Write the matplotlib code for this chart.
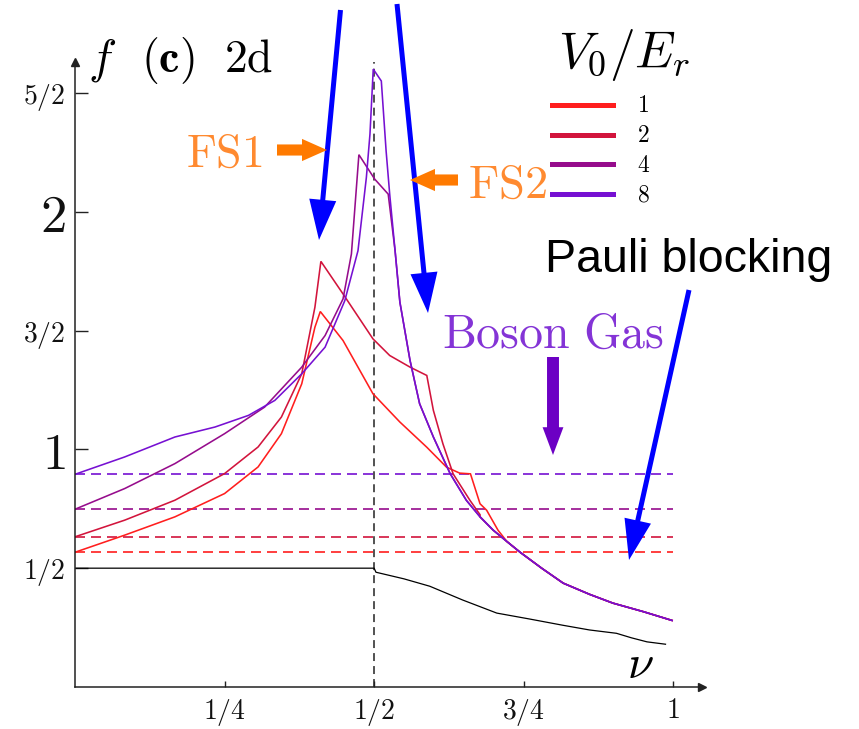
import matplotlib
matplotlib.use("Agg")
import matplotlib.pyplot as plt
from matplotlib.lines import Line2D
from matplotlib.patches import FancyArrowPatch

plt.rcParams["mathtext.fontset"] = "cm"
plt.rcParams["font.family"] = ["DejaVu Serif"]

# ---------------------------------------------------------------- data
v0_labels = ["1", "2", "4", "8"]
curve_colors = ["#ff1e1e", "#d2143c", "#960c8c", "#7610d2"]
boson_gas = [0.567, 0.632, 0.748, 0.895]      # boson-gas level for each V0/Er

# shared high-filling branch (all depths coincide here)
nu_tail = [0.744, 0.780, 0.816, 0.860, 0.899, 0.950, 0.998]
f_tail = [0.567, 0.500, 0.437, 0.390, 0.353, 0.317, 0.280]

# branch shared by the two deepest lattices just above half filling
nu_mid = [0.535, 0.543, 0.560, 0.576, 0.599, 0.627, 0.654, 0.677, 0.699, 0.722]
f_mid = [1.836, 1.620, 1.374, 1.192, 1.052, 0.898, 0.786, 0.716, 0.660, 0.612]

nu_v1 = [0.000, 0.083, 0.167, 0.250, 0.306, 0.345, 0.379, 0.401, 0.410,
         0.448, 0.498, 0.543, 0.588, 0.621, 0.643, 0.661, 0.677, 0.688, 0.707,
         0.722] + nu_tail
f_v1 = [0.567, 0.639, 0.716, 0.814, 0.926, 1.066, 1.276, 1.514, 1.580,
        1.458, 1.234, 1.115, 1.009, 0.925, 0.900, 0.897, 0.771, 0.744, 0.660,
        0.612] + f_tail

nu_v2 = [0.000, 0.083, 0.167, 0.250, 0.306, 0.345, 0.379, 0.401, 0.411,
         0.448, 0.498, 0.526, 0.560, 0.588, 0.599, 0.615, 0.632, 0.660,
         0.677] + nu_mid[-3:] + nu_tail
f_v2 = [0.632, 0.702, 0.786, 0.898, 1.010, 1.136, 1.318, 1.598, 1.791,
        1.654, 1.465, 1.395, 1.346, 1.311, 1.164, 1.023, 0.897, 0.786,
        0.725] + f_mid[-3:] + f_tail

nu_v4 = [0.000, 0.083, 0.167, 0.250, 0.317, 0.379, 0.418, 0.448, 0.462,
         0.4745, 0.501, 0.5235] + nu_mid + nu_tail
f_v4 = [0.748, 0.835, 0.940, 1.066, 1.178, 1.346, 1.479, 1.633, 1.822,
        2.240, 2.137, 2.074] + f_mid + f_tail

nu_v8 = [0.000, 0.083, 0.167, 0.234, 0.290, 0.334, 0.379, 0.418, 0.451,
         0.473, 0.487, 0.493, 0.4985, 0.512, 0.520, 0.526] + nu_mid + nu_tail
f_v8 = [0.895, 0.968, 1.052, 1.094, 1.143, 1.206, 1.318, 1.430, 1.626,
        1.836, 2.144, 2.326, 2.600, 2.550, 2.256, 2.074] + f_mid + f_tail

curves_nu = [nu_v1, nu_v2, nu_v4, nu_v8]
curves_f = [f_v1, f_v2, f_v4, f_v8]

# black reference curve
nu_black = [0.000, 0.500, 0.503, 0.550, 0.593, 0.648, 0.705, 0.760, 0.815,
            0.860, 0.905, 0.930, 0.956, 0.987]
f_black = [0.500, 0.500, 0.483, 0.455, 0.424, 0.366, 0.311, 0.286, 0.260,
           0.240, 0.226, 0.207, 0.190, 0.180]

x_ticks = [0.25, 0.5, 0.75, 1.0]
x_ticklabels = [r"$1/4$", r"$1/2$", r"$3/4$", r"$1$"]
y_ticks = [0.5, 1.0, 1.5, 2.0, 2.5]
y_ticklabels = [r"$1/2$", r"$1$", r"$3/2$", r"$2$", r"$5/2$"]
y_ticksizes = [20, 37, 20, 38, 20]

# ---------------------------------------------------------------- layout
W, H = 859, 729
fig = plt.figure(figsize=(W / 100, H / 100), dpi=100)


def fp(px, py):
    """pixel position -> figure fraction"""
    return (px / W, 1 - py / H)


ax_l, ax_r, ax_t, ax_b = 75, 702, 62, 687
ax = fig.add_axes([ax_l / W, 1 - ax_b / H, (ax_r - ax_l) / W, (ax_b - ax_t) / H])
ax.set_xlim(0, 1.048)
ax.set_ylim(0, 2.63)

for s in ("top", "right"):
    ax.spines[s].set_visible(False)
for s in ("left", "bottom"):
    ax.spines[s].set_linewidth(1.1)
    ax.spines[s].set_color("#222222")

# axis arrowheads
ax.plot(1, 0, ">", color="#222222", ms=6, transform=ax.transAxes, clip_on=False)
ax.plot(0, 1, "^", color="#222222", ms=6, transform=ax.transAxes, clip_on=False)

ax.set_xticks(x_ticks)
ax.set_xticklabels(x_ticklabels, fontsize=20)
ax.set_yticks(y_ticks)
ax.set_yticklabels(y_ticklabels)
for lab, sz in zip(ax.get_yticklabels(), y_ticksizes):
    lab.set_fontsize(sz)
ax.tick_params(axis="x", direction="in", length=4.5, width=1.0, pad=7, colors="#222222")
ax.tick_params(axis="y", direction="in", length=9.5, width=1.0, pad=7, colors="#222222")
for lab in ax.get_xticklabels() + ax.get_yticklabels():
    lab.set_color("#111111")

# boson-gas levels
for lvl, col in zip(boson_gas, curve_colors):
    ax.hlines(lvl, 0, 1.0, colors=col, linewidth=1.2, linestyles=(0, (6, 3.6)))

# half filling
ax.axvline(0.5, color="#222222", linewidth=1.1, dashes=(5.2, 3.3))

# black curve
ax.plot(nu_black, f_black, color="black", linewidth=0.9)

# curves for each lattice depth
for nu, f, col in zip(curves_nu, curves_f, curve_colors):
    ax.plot(nu, f, color=col, linewidth=1.15, solid_joinstyle="miter")

# ---------------------------------------------------------------- labels
fig.text(*fp(88, 72), r"$f$", fontsize=34, ha="left", va="baseline")
fig.text(*fp(141, 72), r"$(\mathbf{c})$", fontsize=33, ha="left", va="baseline")
fig.text(*fp(224, 72), r"$2\mathrm{d}$", fontsize=33, ha="left", va="baseline")
fig.text(*fp(627, 678), r"$\nu$", fontsize=34, ha="left", va="baseline")

# legend
fig.text(*fp(558, 68), r"$V_0/E_r$", fontsize=37, ha="left", va="baseline")
legend_rows = [105, 135, 164, 194]
for py, col, lab in zip(legend_rows, curve_colors, v0_labels):
    fig.add_artist(Line2D([552 / W, 613 / W], [1 - py / H, 1 - py / H],
                          color=col, linewidth=3.6, transform=fig.transFigure))
    fig.text(*fp(637, py + 1), "$" + lab + "$", fontsize=17, ha="left", va="center")

orange = "#ff7a00"
fig.text(*fp(186, 167), r"$\mathrm{FS1}$", fontsize=33, color="#ff8a30",
         ha="left", va="baseline")
fig.text(*fp(468, 198), r"$\mathrm{FS2}$", fontsize=33.5, color="#ff8a30",
         ha="left", va="baseline")
fig.text(*fp(442, 348), r"$\mathrm{Boson\ Gas}$", fontsize=34.5, color="#8434d6",
         ha="left", va="baseline")
fig.text(*fp(545, 272), "Pauli blocking", fontsize=33.5, color="black",
         family="Liberation Sans", ha="left", va="baseline")


def arrow(p0, p1, color, tail, head_w, head_l):
    fig.add_artist(FancyArrowPatch(
        fp(*p0), fp(*p1), transform=fig.transFigure,
        arrowstyle=f"simple,head_length={head_l},head_width={head_w},tail_width={tail}",
        mutation_scale=1, color=color, linewidth=0, shrinkA=0, shrinkB=0))


blue = "#0000ff"
arrow((340.5, 10), (319, 240), blue, 3.6, 19.5, 29)
arrow((397, 4), (428, 313), blue, 3.6, 19.5, 29)
arrow((689, 290), (629, 560), blue, 3.6, 19.5, 29)

arrow((277, 150), (327, 150), orange, 8.0, 16, 18)
arrow((458, 180), (410, 180), orange, 8.0, 16, 18)
arrow((553, 357), (553, 455), "#6c00c4", 8.6, 15, 20)

fig.savefig("out.png", dpi=100)
